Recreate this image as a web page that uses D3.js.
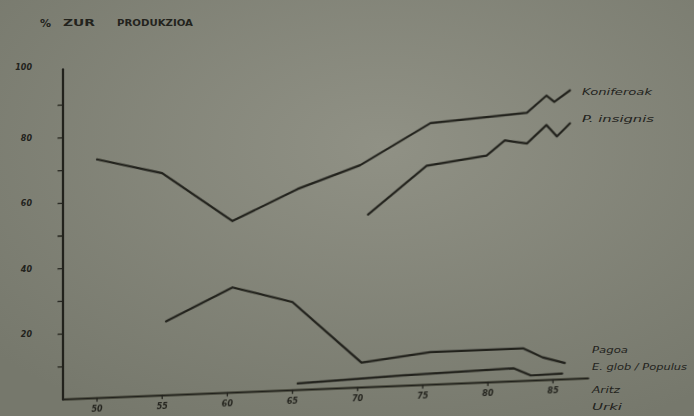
<!DOCTYPE html>
<html lang="eu">
<head>
<meta charset="UTF-8">
<title>% Zur produkzioa</title>
<script src="https://cdnjs.cloudflare.com/ajax/libs/d3/7.8.5/d3.min.js"></script>
<style>
  body { margin: 0; padding: 0; background: #8b8c82; }
  svg { display: block; }
  .ink { fill: none; stroke: #22221c; stroke-width: 2.2; stroke-linejoin: round; stroke-linecap: round; }
  .lbl { fill: #23231d; font-family: "DejaVu Sans", sans-serif; }
</style>
</head>
<body>
<svg width="694" height="416"></svg>
<script>
// years (19xx) and % of wood production
const yTicks = [20, 40, 60, 80, 100];
const xTicks = [50, 55, 60, 65, 70, 75, 80, 85];

const koniferoakYears = [50, 55, 60.4, 65.4, 70.2, 75.6, 83, 84.5, 85.1, 86.3];
const koniferoak      = [73, 68, 52.5, 61.5, 68, 80, 82, 87, 85, 88.3];

const insignisYears = [70.8, 75.3, 79.9, 81.3, 83, 84.5, 85.3, 86.3];
const insignis      = [52.8, 67, 69.4, 73.8, 72.6, 78, 74.4, 78.2];

const pagoaYears = [55.3, 60.4, 65, 70.3, 75.6, 82.7, 84.2, 85.9];
const pagoa      = [22.6, 32.2, 27, 7.6, 10, 10, 7, 5];

const eglobYears = [65.4, 73.3, 82, 83.3, 85.7];
const eglob      = [2, 3.2, 4, 1.6, 1.8];

const seriesNames = ["Koniferoak", "P. insignis", "Pagoa", "E. glob / Populus", "Aritz", "Urki"];

const svg = d3.select("svg");

// paper tone, darker towards the corners like the photo
const defs = svg.append("defs");
const grad = defs.append("radialGradient").attr("id", "paper")
    .attr("cx", "55%").attr("cy", "35%").attr("r", "75%");
grad.append("stop").attr("offset", "0%").attr("stop-color", "#909185");
grad.append("stop").attr("offset", "100%").attr("stop-color", "#76786c");
defs.append("filter").attr("id", "soft")
    .append("feGaussianBlur").attr("stdDeviation", 0.55);

svg.append("rect").attr("width", 694).attr("height", 416).attr("fill", "url(#paper)");

const left = 63;
const x = d3.scaleLinear().domain([50, 85]).range([34, 490]);
const y = d3.scaleLinear().domain([0, 100]).range([399.5, 72.5]);

// the sheet was shot at a slant, so the plot leans a little
const g = svg.append("g")
    .attr("transform", `translate(${left},0) skewY(-2.3)`)
    .attr("filter", "url(#soft)");

// axes
g.append("line").attr("class", "ink")
    .attr("x1", 0).attr("x2", 0).attr("y1", y(0)).attr("y2", y(101));
g.append("line").attr("class", "ink")
    .attr("x1", 0).attr("x2", x(87.7)).attr("y1", y(0)).attr("y2", y(0));

g.selectAll(".ytick").data(d3.range(10, 100, 10)).enter().append("line")
    .attr("class", "ink").style("stroke-width", 1.3)
    .attr("x1", -5).attr("x2", 0)
    .attr("y1", d => y(d)).attr("y2", d => y(d));

g.selectAll(".xtick").data(xTicks).enter().append("line")
    .attr("class", "ink").style("stroke-width", 1.3)
    .attr("x1", d => x(d)).attr("x2", d => x(d))
    .attr("y1", y(0)).attr("y2", y(0) + 3);

g.selectAll(".xlab").data(xTicks).enter().append("text")
    .attr("class", "lbl")
    .attr("x", d => x(d)).attr("y", y(0) + 14)
    .attr("text-anchor", "middle")
    .style("font-size", "8px").style("font-weight", "bold").style("font-style", "italic")
    .text(d => d);

// series
const line = d3.line().x(d => x(d[0])).y(d => y(d[1]));
const series = [
    [koniferoakYears, koniferoak],
    [insignisYears, insignis],
    [pagoaYears, pagoa],
    [eglobYears, eglob]
];
g.selectAll(".series").data(series).enter().append("path")
    .attr("class", "ink")
    .attr("d", s => line(d3.zip(s[0], s[1])));

// y labels sit outside the slant
svg.selectAll(".ylab").data(yTicks).enter().append("text")
    .attr("class", "lbl")
    .attr("x", 32).attr("y", d => y(d) + 3 - (d === 100 ? 6 : 0))
    .attr("text-anchor", "end")
    .style("font-size", "8px").style("font-weight", "bold").style("font-style", "italic")
    .text(d => d);

// title
const title = svg.append("g").attr("class", "lbl").style("font-weight", "bold");
title.append("text").attr("x", 40).attr("y", 27).style("font-size", "11px").text("%");
title.append("text").attr("x", 63).attr("y", 26).style("font-size", "8px")
    .attr("textLength", 32).attr("lengthAdjust", "spacingAndGlyphs").text("ZUR");
title.append("text").attr("x", 117).attr("y", 26).style("font-size", "8px")
    .attr("textLength", 76).attr("lengthAdjust", "spacingAndGlyphs").text("PRODUKZIOA");

// hand-written series names on the right
const namePos = [[582, 95, 70], [582, 122, 72], [592, 353, 36], [592, 370, 95], [592, 393, 28], [592, 410, 30]];
svg.selectAll(".name").data(seriesNames).enter().append("text")
    .attr("class", "lbl")
    .attr("x", (d, i) => namePos[i][0]).attr("y", (d, i) => namePos[i][1])
    .attr("textLength", (d, i) => namePos[i][2]).attr("lengthAdjust", "spacingAndGlyphs")
    .style("font-size", "9px").style("font-style", "italic")
    .text(d => d);
</script>
</body>
</html>
